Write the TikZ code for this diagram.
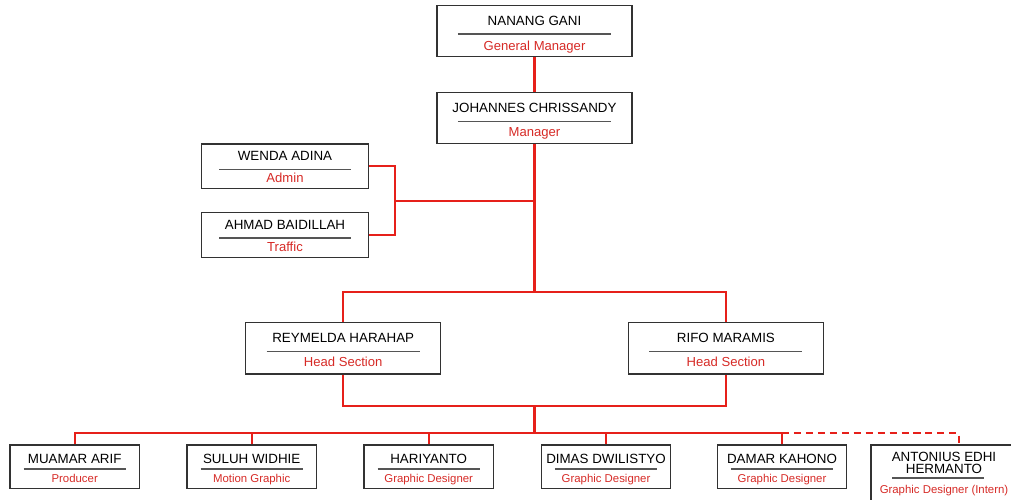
\documentclass[tikz,border=0pt]{standalone}
\usepackage{fontspec}
\setmainfont{Liberation Sans}
\usetikzlibrary{positioning}
\usetikzlibrary{calc}

\definecolor{linkred}{RGB}{230,32,26}
\definecolor{jobred}{RGB}{214,42,38}
\definecolor{boxgrey}{RGB}{50,50,50}
\definecolor{rulegrey}{RGB}{85,85,85}

\begin{document}
\begin{tikzpicture}[
    x=0.025cm, y=-0.025cm,
    every node/.style={
        font=\fontsize{9.5}{11}\selectfont,
        inner sep=0pt
    },
    person/.style={
        rectangle,
        draw=boxgrey,
        line width=0.9pt
    },
    boss/.style={
        person,
        minimum width=4.875cm, minimum height=1.275cm
    },
    aide/.style={
        person,
        minimum width=4.175cm, minimum height=1.11cm
    },
    staff/.style={
        person,
        minimum width=3.24cm, minimum height=1.085cm
    },
    who/.style={
        text=black
    },
    job/.style={
        text=jobred,
        font=\fontsize{9.3}{11}\selectfont
    },
    smalljob/.style={
        text=jobred,
        font=\fontsize{8.1}{10}\selectfont
    },
    sepline/.style={
        draw=rulegrey,
        line width=0.8pt
    },
    link/.style={
        draw=linkred,
        line width=1.6pt
    },
    internlink/.style={
        link,
        dash pattern=on 5pt off 3.5pt
    }
]
\useasboundingbox (0,0) rectangle (1011,499);
\clip (0,0) rectangle (1011,499);

% boxes
\node (gm)  [boss]  at (534.5,31)    {};
\node (mgr) [boss]  at (534.5,118.3) {};
\node (adm) [aide]  at (285,166.2)   {};
\node (trf) [aide]  at (285,235)     {};
\node (hs1) [boss, minimum height=1.28cm] at (343.2,348.3) {};
\node (hs2) [boss, minimum height=1.28cm] at (725.9,348.3) {};
\node (st1) [staff] at (74.7,466.7)  {};
\node (st2) [staff] at (251.7,466.7) {};
\node (st3) [staff] at (428.7,466.7) {};
\node (st4) [staff] at (606,466.7)   {};
\node (st5) [staff] at (782,466.7)   {};
\node (st6) [staff, minimum width=3.65cm, minimum height=1.45cm] at (944,474) {};

% names and roles
\foreach \n/\who/\job/\gap in {gm/NANANG GANI/General Manager/4.6pt,
    mgr/JOHANNES CHRISSANDY/Manager/4.4pt,
    adm/WENDA ADINA/Admin/2.8pt,
    trf/AHMAD BAIDILLAH/Traffic/2.8pt,
    hs1/REYMELDA HARAHAP/Head Section/3.8pt,
    hs2/RIFO MARAMIS/Head Section/3.8pt}
{
    \coordinate (\n-mid) at ($(\n.center)+(0,3)$);
    \draw[sepline] ($(\n.west)!0.11!(\n.east)+(0,3)$) -- ($(\n.east)!0.11!(\n.west)+(0,3)$);
    \node (\n-who) [who, above=6pt of \n-mid] {\who};
    \node (\n-job) [job, below=\gap of \n-mid] {\job};
}
\foreach \n/\who/\job in {st1/MUAMAR ARIF/Producer,
    st2/SULUH WIDHIE/Motion Graphic,
    st3/HARIYANTO/Graphic Designer,
    st4/DIMAS DWILISTYO/Graphic Designer,
    st5/DAMAR KAHONO/Graphic Designer}
{
    \coordinate (\n-mid) at ($(\n.center)+(0,2.3)$);
    \draw[sepline] ($(\n.west)!0.11!(\n.east)+(0,2.3)$) -- ($(\n.east)!0.11!(\n.west)+(0,2.3)$);
    \node (\n-who) [who, above=3.8pt of \n-mid] {\who};
    \node (\n-job) [smalljob, below=3.6pt of \n-mid] {\job};
}
\coordinate (st6-mid) at ($(st6.center)+(0,4)$);
\draw[sepline] ($(st6.west)+(22,4)$) -- ($(st6.west)+(114,4)$);
\node (st6-who) [who, align=center, font=\fontsize{9.5}{9.2}\selectfont, above=2.6pt of st6-mid] {ANTONIUS EDHI\\HERMANTO};
\node (st6-job) [smalljob, below=4.6pt of st6-mid] {Graphic Designer (Intern)};

% connectors
\coordinate (side)   at (395,200.7);
\coordinate (trunk)  at (534.5,292);
\coordinate (merge)  at (534.5,405.7);
\coordinate (bus)    at (534.5,433.3);
\coordinate (intern) at (959,433.3);

\draw[link] (gm.south) -- (mgr.north);
\draw[link] (mgr.south) -- (trunk);
\draw[link] (adm.east) -| (side) |- (trf.east);
\draw[link] (side) -- (side -| trunk);
\draw[link] (hs1.north) |- (trunk) -| (hs2.north);
\draw[link] (hs1.south) |- (merge) -| (hs2.south);
\draw[link] (merge) -- (bus);
\draw[link] (st1.north) |- (bus) -| (st5.north);
\draw[link] (st2.north) -- (st2.north |- bus);
\draw[link] (st3.north) -- (st3.north |- bus);
\draw[link] (st4.north) -- (st4.north |- bus);
\draw[internlink] (st5.north |- bus) -| (intern |- st6.north);
\end{tikzpicture}
\end{document}
